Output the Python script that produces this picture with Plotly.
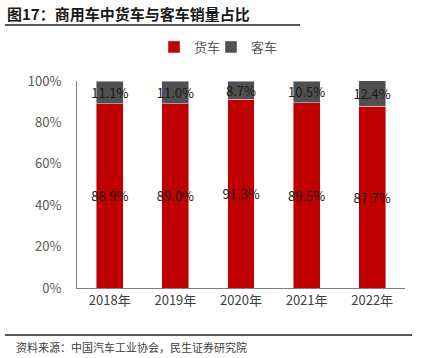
import plotly.graph_objects as go

years = ["2018年", "2019年", "2020年", "2021年", "2022年"]
truck = [88.9, 89.0, 91.3, 89.5, 87.7]
bus = [11.1, 11.0, 8.7, 10.5, 12.4]
y_ticks = [0, 20, 40, 60, 80, 100]
y_tick_labels = ["0%", "20%", "40%", "60%", "80%", "100%"]

FONT = "Noto Sans CJK SC"
L, R, T, B = 77, 17, 81, 70
W, H = 422, 358
pw, ph = W - L - R, H - T - B

def px(x):
    return (x - L) / pw

def py(y):
    return (H - B - y) / ph

fig = go.Figure()
fig.add_trace(go.Bar(
    x=years, y=truck, name="货车", marker_color="#C00000", legend="legend",
    text=[f"{v:.1f}%" for v in truck], textposition="inside", textangle=0,
    insidetextanchor="middle", textfont=dict(color="#1a1a1a", size=13, family=FONT),
))
fig.add_trace(go.Bar(
    x=years, y=bus, name="客车", marker_color="#505050", legend="legend2",
    text=[f"{v:.1f}%" for v in bus], textposition="inside", textangle=0,
    insidetextanchor="middle", textfont=dict(color="#1a1a1a", size=13, family=FONT),
))

leg_common = dict(orientation="h", yanchor="middle", y=py(47), xanchor="left",
                  font=dict(size=13, color="#595959"), itemwidth=30,
                  bgcolor="rgba(0,0,0,0)")

fig.update_layout(
    barmode="stack", bargap=0.59,
    width=W, height=H,
    margin=dict(l=L, r=R, t=T, b=B),
    paper_bgcolor="white", plot_bgcolor="white",
    font=dict(family=FONT, color="#595959", size=13),
    uniformtext=dict(minsize=13, mode="show"),
    showlegend=True,
    legend=dict(x=px(154), **leg_common),
    legend2=dict(x=px(211), **leg_common),
    xaxis=dict(showline=True, linecolor="#7f7f7f", linewidth=1, ticks="",
               tickfont=dict(size=13, color="#404040"), fixedrange=True),
    yaxis=dict(range=[0, 100], tickvals=y_ticks, ticktext=y_tick_labels,
               showline=True, linecolor="#7f7f7f", linewidth=1, showgrid=False,
               zeroline=False, ticklabelstandoff=12, fixedrange=True,
               tickfont=dict(size=13, color="#595959")),
)

fig.add_annotation(xref="paper", yref="paper", x=px(5), y=py(13), xanchor="left", yanchor="middle",
                   text="<b>图17：商用车中货车与客车销量占比</b>", showarrow=False,
                   font=dict(size=15, color="#1a1a1a", family=FONT))
fig.add_annotation(xref="paper", yref="paper", x=px(14), y=py(347), xanchor="left", yanchor="middle",
                   text="资料来源：中国汽车工业协会，民生证券研究院", showarrow=False,
                   font=dict(size=11, color="#404040", family=FONT))
fig.add_shape(type="line", xref="paper", yref="paper", x0=px(5), x1=px(300), y0=py(25), y1=py(25),
              line=dict(color="#595959", width=2))
fig.add_shape(type="line", xref="paper", yref="paper", x0=px(5), x1=px(412), y0=py(335), y1=py(335),
              line=dict(color="#595959", width=2))

fig.write_html("out.html", config={"displayModeBar": False},
               post_script="document.body.style.margin='0';document.body.style.overflow='hidden';")
